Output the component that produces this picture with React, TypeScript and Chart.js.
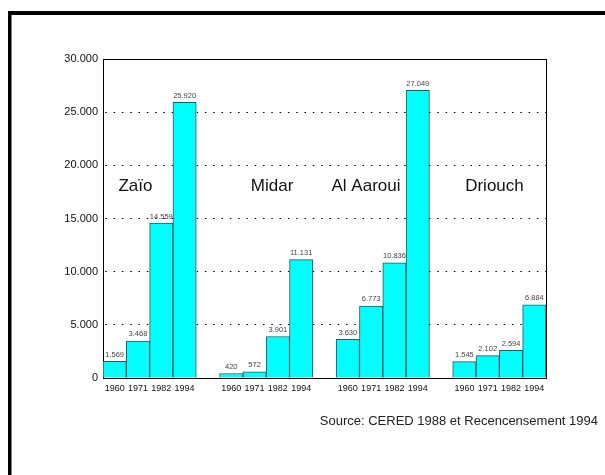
import React, { useEffect, useRef } from "react";
import { Chart, registerables } from "chart.js";

Chart.register(...registerables);

const years = ["1960", "1971", "1982", "1994"];
const towns = ["Zaïo", "Midar", "Al Aaroui", "Driouch"];
const zaio = [1569, 3468, 14559, 25920];
const midar = [420, 572, 3901, 11131];
const alAaroui = [3630, 6773, 10836, 27049];
const driouch = [1545, 2102, 2594, 6884];
const yTicks = [0, 5000, 10000, 15000, 20000, 25000, 30000];
// annotation anchors (category-index units, value units)
const townLabelSlot = [0.89, 6.75, 10.78, 16.29];
const townLabelValue = 18000;
const sourceText = "Source: CERED 1988 et Recencensement 1994";

const FONT = "'Liberation Sans', Arial, Helvetica, sans-serif";

const fmt = (n: number) => String(n).replace(/\B(?=(\d{3})+(?!\d))/g, ".");

// build slots: 4 bars per town, an empty slot between towns
const groups = [zaio, midar, alAaroui, driouch];
const labels: string[] = [];
const values: (number | null)[] = [];
groups.forEach((g, gi) => {
  g.forEach((v, i) => {
    labels.push(years[i]);
    values.push(v);
  });
  if (gi < groups.length - 1) {
    labels.push("");
    values.push(null);
  }
});

const decorPlugin = {
  id: "decor",
  beforeDatasetsDraw(chart: any) {
    const { ctx, chartArea } = chart;
    ctx.save();
    ctx.strokeStyle = "#000";
    ctx.lineWidth = 1;
    ctx.strokeRect(
      Math.round(chartArea.left) + 0.5,
      Math.round(chartArea.top) + 0.5,
      Math.round(chartArea.right - chartArea.left),
      Math.round(chartArea.bottom - chartArea.top)
    );
    ctx.restore();
  },
  afterDatasetsDraw(chart: any) {
    const { ctx, scales } = chart;
    const meta = chart.getDatasetMeta(0);
    ctx.save();
    // value labels
    ctx.font = `7.5px ${FONT}`;
    ctx.fillStyle = "#444";
    ctx.textAlign = "center";
    ctx.textBaseline = "bottom";
    meta.data.forEach((bar: any, i: number) => {
      const v = values[i];
      if (v == null) return;
      ctx.fillText(fmt(v), bar.x, bar.y - 3);
    });
    // town names
    ctx.font = `17px ${FONT}`;
    ctx.fillStyle = "#111";
    ctx.textBaseline = "middle";
    towns.forEach((t, i) => {
      const x = scales.x.getPixelForValue(townLabelSlot[i]);
      const y = scales.y.getPixelForValue(townLabelValue);
      ctx.fillText(t, x, y);
    });
    // source
    ctx.font = `13px ${FONT}`;
    ctx.textAlign = "right";
    ctx.fillStyle = "#222";
    ctx.fillText(sourceText, 598, 421);
    // outer frame (top and left only)
    ctx.fillStyle = "#000";
    ctx.fillRect(8, 11, 597, 4);
    ctx.fillRect(8, 11, 3.5, 464);
    ctx.restore();
  },
};

export default function App() {
  const ref = useRef<HTMLCanvasElement>(null);
  useEffect(() => {
    if (!ref.current) return;
    const chart = new Chart(ref.current, {
      type: "bar",
      data: {
        labels,
        datasets: [
          {
            data: values,
            backgroundColor: "#00FFFF",
            borderColor: "#2f5555",
            borderWidth: 1,
            barPercentage: 1,
            categoryPercentage: 1,
          },
        ],
      },
      options: {
        animation: false,
        responsive: false,
        devicePixelRatio: 1,
        layout: { padding: { left: 0, top: 59, right: 59, bottom: 0 } },
        plugins: {
          legend: { display: false },
          tooltip: { enabled: false },
          title: { display: false },
        },
        scales: {
          x: {
            grid: { display: false, drawTicks: false },
            border: { display: false },
            ticks: {
              autoSkip: false,
              maxRotation: 0,
              minRotation: 0,
              padding: 5,
              color: "#111",
              font: { size: 9, family: FONT },
            },
            afterFit: (s: any) => {
              s.height = 97;
            },
          },
          y: {
            min: 0,
            max: 30000,
            afterBuildTicks: (s: any) => {
              s.ticks = yTicks.map((v) => ({ value: v }));
            },
            grid: {
              drawTicks: false,
              lineWidth: 1,
              color: (c: any) =>
                c.tick && (c.tick.value === 0 || c.tick.value === 30000)
                  ? "rgba(0,0,0,0)"
                  : "#000",
            },
            border: { display: false, dash: [1.5, 6.8], dashOffset: 6 },
            ticks: {
              padding: 5,
              color: "#111",
              font: { size: 11, family: FONT },
              callback: (v: any) => fmt(Number(v)),
            },
            afterFit: (s: any) => {
              s.width = 103;
            },
          },
        },
      },
      plugins: [decorPlugin],
    });
    return () => chart.destroy();
  }, []);
  return (
    <div style={{ position: "absolute", left: 0, top: 0, width: 605, height: 475, background: "#fff" }}>
      <canvas ref={ref} width={605} height={475} style={{ width: 605, height: 475, display: "block" }} />
    </div>
  );
}
